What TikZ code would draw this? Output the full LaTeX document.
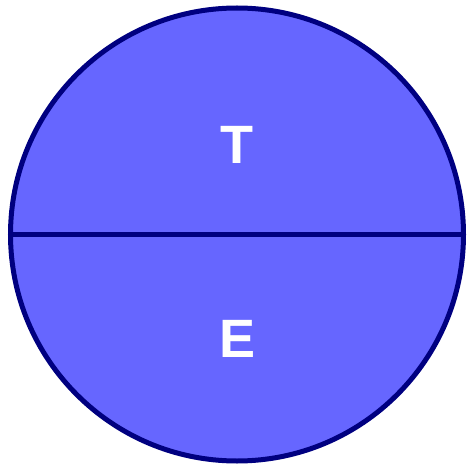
\documentclass[tikz,border=0pt]{standalone}
\usepackage{fontspec}
\setmainfont{Liberation Sans}
\definecolor{fillblue}{HTML}{6666FF}
\definecolor{navy}{HTML}{000080}
\begin{document}
\begin{tikzpicture}[x=1pt,y=1pt,
  disc/.style={circle,draw=navy,fill=fillblue,line width=5pt,minimum size=453pt,inner sep=0pt},
  lbl/.style={text=white,font=\fontsize{54}{54}\selectfont\bfseries,inner sep=0pt,anchor=center}]
\useasboundingbox (0,0) rectangle (468,464);
\node[disc] (c) at (237,229.5) {};
\draw[navy,line width=5pt] (c.west) -- (c.east);
\node[lbl] (t) at (237,319.5) {T};
\node[lbl] (e) at (237.5,125.2) {E};
\end{tikzpicture}
\end{document}
